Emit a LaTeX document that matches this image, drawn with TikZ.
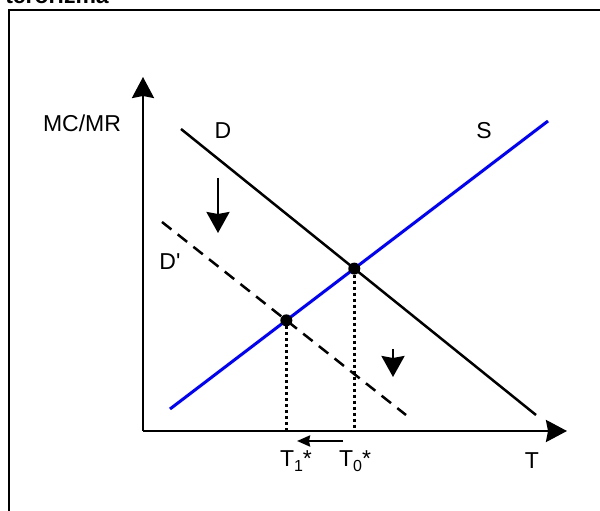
\documentclass[tikz,border=0pt]{standalone}
\usepackage{fontspec}
\setmainfont{Liberation Sans}
\usepackage{xcolor}
\usetikzlibrary{arrows.meta,positioning,intersections}
\definecolor{SupplyBlue}{HTML}{0000FF}
\newcommand{\lowidx}[1]{\raisebox{-5pt}{\fontsize{16}{16}\selectfont #1}}

\begin{document}
\begin{tikzpicture}[
    x=20pt, y=20pt,
    lbl/.style={font=\fontsize{23}{27}\selectfont},
    axis/.style={line width=2.5pt, -{Stealth[length=21pt, width=22pt, inset=2pt]}},
    movearrow/.style={line width=2.6pt, -{Stealth[length=21pt, width=23pt, inset=2pt]}},
    smallarrow/.style={line width=2.5pt, -{Stealth[length=13pt, width=11pt, inset=1pt]}},
    curve/.style={line width=2.5pt},
    guide/.style={line width=3pt, dash pattern=on 3pt off 3pt},
    dot/.style={circle, fill=black, inner sep=0pt, minimum size=12pt},
  ]
    \clip (-7.15,-4) rectangle (22.85,21.55);
    % frame and cut heading
    \draw[line width=1.5pt] (-6.7,-4.5) -- (-6.7,21.05) -- (23.5,21.05);
    \node[lbl, font=\fontsize{23}{27}\selectfont\bfseries, anchor=base east, inner sep=0pt] (head) at (-1.7,21.35) {terorizma};
    % axes
    \coordinate (o) at (0,0);
    \draw[axis] (o) -- (0,17.7) coordinate (ytip);
    \draw[axis] (o) -- (21.2,0) coordinate (xtip);
    % curves
    \draw[curve, name path=dem] (1.9,15.1) coordinate (d0) -- (19.65,0.8) coordinate (d1);
    \draw[curve, dash pattern=on 12pt off 8pt, name path=dem2] (0.95,10.45) coordinate (e0) -- (13.15,0.8) coordinate (e1);
    \draw[curve, line width=3pt, SupplyBlue, name path=sup] (1.35,1.1) coordinate (s0) -- (20.25,15.5) coordinate (s1);
    % equilibria
    \path[name intersections={of=dem and sup, by=q0}];
    \path[name intersections={of=dem2 and sup, by=q1}];
    \draw[guide] (q0) -- (q0 |- o);
    \draw[guide] (q1) -- (q1 |- o);
    \node[dot] (p0) at (q0) {};
    \node[dot] (p1) at (q1) {};
    % shift arrows
    \coordinate (a0) at (3.75,12.65);
    \coordinate (a1) at (3.75,9.9);
    \coordinate (b0) at (12.5,4.1);
    \coordinate (b1) at (12.5,2.7);
    \coordinate (c0) at (10.0,-0.5);
    \coordinate (c1) at (7.7,-0.5);
    \draw[movearrow] (a0) -- (a1);
    \draw[movearrow] (b0) -- (b1);
    \draw[smallarrow] (c0) -- (c1);
    % labels
    \node[lbl] (mcmr) at (-3.05,15.4) {MC/MR};
    \node[lbl] (dlab) at (4.0,15.0) {D};
    \node[lbl] (slab) at (17.05,15.0) {S};
    \node[lbl] (dplab) at (1.35,8.45) {D\textquotesingle};
    \node[lbl] (t1) at (7.65,-1.5) {T\lowidx{1}*};
    \node[lbl] (t0) at (10.6,-1.5) {T\lowidx{0}*};
    \node[lbl] (tlab) at (19.45,-1.5) {T};
\end{tikzpicture}
\end{document}
